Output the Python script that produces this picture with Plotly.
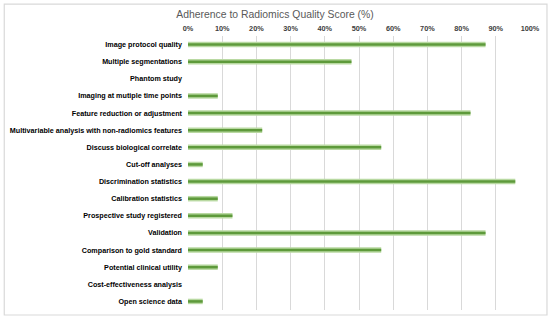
import plotly.graph_objects as go

categories = [
    "Image protocol quality",
    "Multiple segmentations",
    "Phantom study",
    "Imaging at mutiple time points",
    "Feature reduction or adjustment",
    "Multivariable analysis with non-radiomics features",
    "Discuss biological correlate",
    "Cut-off analyses",
    "Discrimination statistics",
    "Calibration statistics",
    "Prospective study registered",
    "Validation",
    "Comparison to gold standard",
    "Potential clinical utility",
    "Cost-effectiveness analysis",
    "Open science data",
]
adherence_pct = [87.0, 47.8, 0, 8.7, 82.6, 21.7, 56.5, 4.3, 95.7, 8.7, 13.0, 87.0, 56.5, 8.7, 0, 4.3]
tick_vals = [0, 10, 20, 30, 40, 50, 60, 70, 80, 90, 100]
tick_text = ["0%", "10%", "20%", "30%", "40%", "50%", "60%", "70%", "80%", "90%", "100%"]
title_text = "Adherence to Radiomics Quality Score (%)"

L, R, T, B = 187.5, 20, 35.5, 10.5
W, H = 550, 321
pw, ph = W - L - R, H - T - B

fig = go.Figure()
fig.add_trace(go.Bar(
    y=categories, x=adherence_pct, orientation="h",
    width=0.32, marker=dict(color="#b9d9a2", line=dict(width=0)),
    hoverinfo="x+y", showlegend=False,
))
fig.add_trace(go.Bar(
    y=categories, x=adherence_pct, orientation="h",
    width=0.15, marker=dict(color="#5e9a3b", line=dict(width=0)),
    hoverinfo="skip", showlegend=False,
))

fig.update_layout(
    width=W, height=H,
    barmode="overlay",
    paper_bgcolor="white", plot_bgcolor="white",
    margin=dict(l=L, r=R, t=T, b=B, autoexpand=False),
    title=dict(text=title_text, x=0.5, xanchor="center", xref="container",
               y=1 - 14.5 / H, yanchor="middle", yref="container",
               font=dict(family="Liberation Sans, Arial", size=10.4, color="#595959")),
    font=dict(family="Liberation Sans, Arial", color="#000000"),
    shapes=[dict(type="rect", xref="paper", yref="paper",
                 x0=(3.5 - L) / pw, x1=(547 - L) / pw,
                 y0=-(315.5 - (H - B)) / ph, y1=1 + (T - 3.5) / ph,
                 line=dict(color="#d9d9d9", width=1.2), fillcolor="rgba(0,0,0,0)", layer="below")],
)
fig.update_xaxes(
    side="top", range=[0, 100], tickvals=tick_vals, ticktext=tick_text,
    showgrid=True, gridcolor="#d9d9d9", gridwidth=1, zeroline=False,
    showline=False, ticks="", ticklabelstandoff=3, automargin=False,
    tickfont=dict(family="Liberation Sans, Arial", size=7.3, color="#404040", weight="bold"),
)
fig.update_yaxes(
    autorange="reversed", showgrid=False, zeroline=False, showline=False, ticks="",
    ticklabelstandoff=5, automargin=False,
    tickfont=dict(family="Liberation Sans, Arial", size=7.2, color="#000000", weight="bold"),
)

fig.write_html("out.html", config={"displayModeBar": False},
               post_script="document.body.style.margin='0';")
